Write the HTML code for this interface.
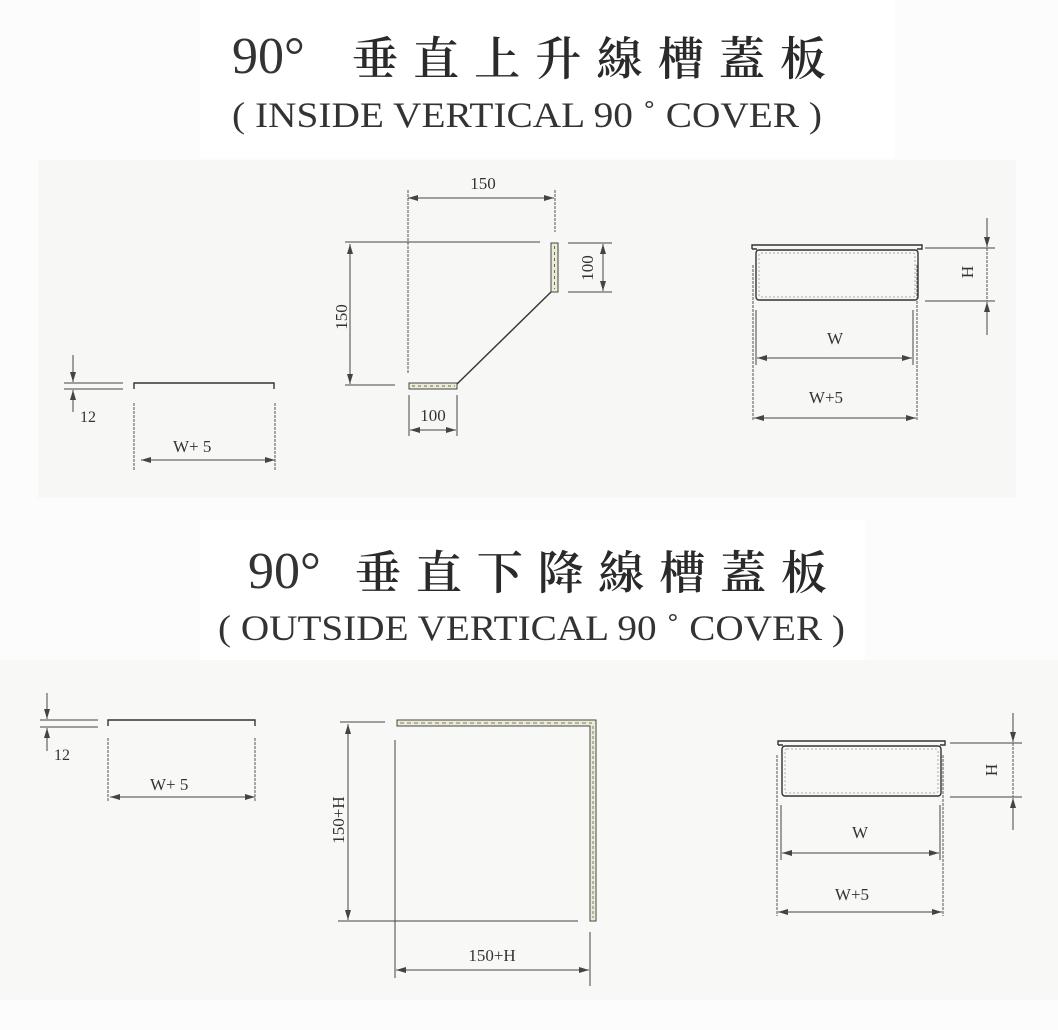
<!DOCTYPE html>
<html><head><meta charset="utf-8"><style>
html,body{margin:0;padding:0;background:#fff;}
svg{display:block}
text{font-family:"Liberation Serif","Noto Serif CJK SC",serif;fill:#333}
.cjk{font-family:"Noto Serif CJK SC","Noto Sans CJK TC",serif;font-weight:600;fill:#2a2a2a}
.d{stroke:#444;stroke-width:1;fill:none}
.dd{stroke:#555;stroke-width:1;fill:none;stroke-dasharray:3 1}
.p{stroke:#333;stroke-width:1.4;fill:none}
</style></head><body>
<svg width="1058" height="1030" viewBox="0 0 1058 1030" xmlns="http://www.w3.org/2000/svg">
<defs>
<marker id="a" viewBox="0 0 10 6" refX="10" refY="3" markerWidth="10" markerHeight="6" orient="auto-start-reverse" markerUnits="userSpaceOnUse"><path d="M0,0 L10,3 L0,6 Z" fill="#444"/></marker>
</defs>
<rect x="0" y="0" width="1058" height="1030" fill="#fcfcfc"/>
<rect x="38" y="160" width="978" height="338" fill="#f7f7f5"/>
<rect x="0" y="660" width="1058" height="340" fill="#f8f8f6"/>
<rect x="200" y="0" width="695" height="158" fill="#fff"/>
<rect x="200" y="520" width="665" height="140" fill="#fff"/>

<!-- Titles -->
<text x="232" y="73" font-size="52" fill="#333">90°</text>
<text class="cjk" x="352" y="75" font-size="46" textLength="474" lengthAdjust="spacing">垂直上升線槽蓋板</text>
<text x="232" y="127" font-size="36" textLength="590" lengthAdjust="spacingAndGlyphs">( INSIDE VERTICAL 90 ˚ COVER )</text>

<text x="248" y="588" font-size="52" fill="#333">90°</text>
<text class="cjk" x="355" y="589" font-size="46" textLength="472" lengthAdjust="spacing">垂直下降線槽蓋板</text>
<text x="218" y="640" font-size="36" textLength="627" lengthAdjust="spacingAndGlyphs">( OUTSIDE  VERTICAL 90 ˚ COVER )</text>

<!-- TOP LEFT -->
<line class="d" x1="73" y1="355" x2="73" y2="382" marker-end="url(#a)"/>
<line class="d" x1="73" y1="412" x2="73" y2="390" marker-end="url(#a)"/>
<line class="d" x1="64" y1="383" x2="123" y2="383"/>
<line class="d" x1="64" y1="389" x2="123" y2="389"/>
<text x="80" y="422" font-size="16">12</text>
<path class="p" d="M134,389 V383 H274 V389"/>
<line class="dd" x1="134" y1="403" x2="134" y2="470"/>
<line class="dd" x1="275" y1="403" x2="275" y2="470"/>
<line class="d" x1="141" y1="460" x2="275" y2="460" marker-start="url(#a)" marker-end="url(#a)"/>
<text x="173" y="452" font-size="17">W+ 5</text>

<!-- TOP MIDDLE -->
<line class="dd" x1="408" y1="190" x2="408" y2="374"/>
<line class="dd" x1="555" y1="190" x2="555" y2="232"/>
<line class="d" x1="408" y1="198" x2="554" y2="198" marker-start="url(#a)" marker-end="url(#a)"/>
<text x="483" y="189" font-size="17" text-anchor="middle">150</text>
<line class="d" x1="345" y1="242" x2="540" y2="242"/>
<line class="d" x1="350" y1="244" x2="350" y2="384" marker-start="url(#a)" marker-end="url(#a)"/>
<line class="d" x1="345" y1="385" x2="395" y2="385"/>
<text transform="translate(347,317) rotate(-90)" font-size="17" text-anchor="middle">150</text>
<rect x="551" y="243" width="7" height="49" fill="#ecebd4" stroke="#444"/>
<line x1="554.5" y1="246" x2="554.5" y2="289" stroke="#666" stroke-dasharray="3 3"/>
<line class="d" x1="568" y1="243" x2="612" y2="243"/>
<line class="d" x1="568" y1="292" x2="612" y2="292"/>
<line class="d" x1="603" y1="244" x2="603" y2="291" marker-start="url(#a)" marker-end="url(#a)"/>
<text transform="translate(593,268) rotate(-90)" font-size="17" text-anchor="middle">100</text>
<rect x="409" y="383" width="48" height="6" fill="#ecebd4" stroke="#444"/>
<line x1="412" y1="386" x2="455" y2="386" stroke="#666" stroke-dasharray="3 3"/>
<line class="p" x1="457" y1="384" x2="551" y2="292"/>
<line class="d" x1="409" y1="395" x2="409" y2="436"/>
<line class="d" x1="457" y1="395" x2="457" y2="436"/>
<line class="d" x1="410" y1="430" x2="456" y2="430" marker-start="url(#a)" marker-end="url(#a)"/>
<text x="433" y="421" font-size="17" text-anchor="middle">100</text>

<!-- TOP RIGHT -->
<path class="p" d="M752,249 V245 H922 V249 H917 M752,249 H757"/>
<rect x="756" y="250" width="162" height="50" rx="3" class="p"/>
<rect x="759" y="253" width="156" height="44" rx="2" fill="none" stroke="#aaa" stroke-dasharray="2 2"/>
<line class="dd" x1="753" y1="265" x2="753" y2="421"/>
<line class="dd" x1="917" y1="265" x2="917" y2="421"/>
<line class="d" x1="756" y1="310" x2="756" y2="365"/>
<line class="d" x1="913" y1="310" x2="913" y2="365"/>
<line class="d" x1="757" y1="358" x2="912" y2="358" marker-start="url(#a)" marker-end="url(#a)"/>
<text x="835" y="344" font-size="17" text-anchor="middle">W</text>
<line class="d" x1="754" y1="418" x2="916" y2="418" marker-start="url(#a)" marker-end="url(#a)"/>
<text x="826" y="403" font-size="17" text-anchor="middle">W+5</text>
<line class="d" x1="925" y1="248" x2="995" y2="248"/>
<line class="d" x1="925" y1="301" x2="995" y2="301"/>
<line class="d" x1="987" y1="218" x2="987" y2="247" marker-end="url(#a)"/>
<line class="d" x1="987" y1="335" x2="987" y2="302" marker-end="url(#a)"/>
<line class="dd" x1="987" y1="248" x2="987" y2="301"/>
<text transform="translate(973,272) rotate(-90)" font-size="17" text-anchor="middle">H</text>

<!-- BOTTOM LEFT -->
<line class="d" x1="47" y1="693" x2="47" y2="719" marker-end="url(#a)"/>
<line class="d" x1="47" y1="751" x2="47" y2="728" marker-end="url(#a)"/>
<line class="d" x1="40" y1="720" x2="98" y2="720"/>
<line class="d" x1="40" y1="727" x2="98" y2="727"/>
<text x="54" y="760" font-size="16">12</text>
<path class="p" d="M108,726 V720 H255 V726"/>
<line class="dd" x1="108" y1="738" x2="108" y2="802"/>
<line class="dd" x1="255" y1="738" x2="255" y2="802"/>
<line class="d" x1="110" y1="797" x2="255" y2="797" marker-start="url(#a)" marker-end="url(#a)"/>
<text x="150" y="790" font-size="17">W+ 5</text>

<!-- BOTTOM MIDDLE -->
<path d="M397,720 H596 V921 H590 V726 H397 Z" fill="#ecebd4" stroke="#444"/>
<line x1="400" y1="723" x2="592" y2="723" stroke="#777" stroke-dasharray="4 3"/>
<line x1="593" y1="726" x2="593" y2="918" stroke="#777" stroke-dasharray="3 2"/>
<line class="d" x1="340" y1="722" x2="385" y2="722"/>
<line class="d" x1="338" y1="921" x2="578" y2="921"/>
<line class="d" x1="395" y1="740" x2="395" y2="978"/>
<line class="d" x1="348" y1="724" x2="348" y2="920" marker-start="url(#a)" marker-end="url(#a)"/>
<text transform="translate(344,820) rotate(-90)" font-size="17" text-anchor="middle">150+H</text>
<line class="d" x1="590" y1="932" x2="590" y2="986"/>
<line class="d" x1="396" y1="970" x2="589" y2="970" marker-start="url(#a)" marker-end="url(#a)"/>
<text x="492" y="961" font-size="17" text-anchor="middle">150+H</text>

<!-- BOTTOM RIGHT -->
<path class="p" d="M778,745 V741 H945 V745 H940 M778,745 H783"/>
<rect x="782" y="746" width="159" height="50" rx="3" class="p"/>
<rect x="785" y="749" width="153" height="44" rx="2" fill="none" stroke="#aaa" stroke-dasharray="2 2"/>
<line class="dd" x1="777" y1="755" x2="777" y2="916"/>
<line class="dd" x1="943" y1="755" x2="943" y2="916"/>
<line class="d" x1="781" y1="805" x2="781" y2="860"/>
<line class="d" x1="940" y1="805" x2="940" y2="860"/>
<line class="d" x1="782" y1="853" x2="939" y2="853" marker-start="url(#a)" marker-end="url(#a)"/>
<text x="860" y="838" font-size="17" text-anchor="middle">W</text>
<line class="d" x1="778" y1="912" x2="942" y2="912" marker-start="url(#a)" marker-end="url(#a)"/>
<text x="852" y="900" font-size="17" text-anchor="middle">W+5</text>
<line class="d" x1="950" y1="743" x2="1022" y2="743"/>
<line class="d" x1="950" y1="797" x2="1022" y2="797"/>
<line class="d" x1="1013" y1="713" x2="1013" y2="742" marker-end="url(#a)"/>
<line class="d" x1="1013" y1="830" x2="1013" y2="798" marker-end="url(#a)"/>
<line class="dd" x1="1013" y1="743" x2="1013" y2="797"/>
<text transform="translate(997,770) rotate(-90)" font-size="17" text-anchor="middle">H</text>
</svg>
</body></html>
